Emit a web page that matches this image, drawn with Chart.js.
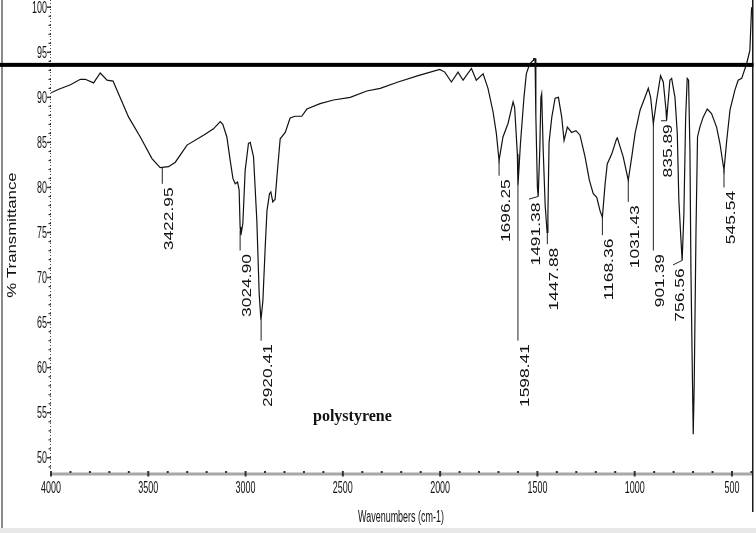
<!DOCTYPE html>
<html>
<head>
<meta charset="utf-8">
<script src="https://cdn.jsdelivr.net/npm/chart.js@4.4.1/dist/chart.umd.min.js"></script>
<style>
html, body { margin: 0; padding: 0; background: #fff; }
canvas { display: block; }
</style>
</head>
<body>
<canvas id="grafico_ir" width="756" height="533"></canvas>
<script>
// espectro IR do poliestireno
const numeros_onda = [
    4000, 3960, 3900, 3849, 3824, 3781, 3747, 3712, 3681, 3653, 3601, 3541, 3481, 3439, 3396, 3361,
    3301, 3216, 3165, 3130, 3117, 3096, 3079, 3065, 3053, 3041, 3033, 3028, 3024, 3014, 3002, 2985,
    2976, 2959, 2942, 2930, 2921, 2911, 2899, 2890, 2877, 2870, 2860, 2848, 2836, 2822, 2796, 2771,
    2745, 2711, 2685, 2617, 2548, 2462, 2377, 2308, 2216, 2113, 2002, 1976, 1942, 1908, 1882, 1839,
    1814, 1779, 1754, 1728, 1711, 1699, 1697, 1677, 1651, 1625, 1617, 1603, 1600, 1587, 1569, 1557,
    1540, 1522, 1519, 1512, 1508, 1500, 1496, 1488, 1482, 1478, 1470, 1460, 1450, 1446, 1440, 1426,
    1409, 1392, 1375, 1363, 1346, 1324, 1302, 1281, 1255, 1233, 1213, 1195, 1178, 1166, 1152, 1141,
    1118, 1093, 1089, 1059, 1033, 1015, 998, 972, 947, 930, 918, 904, 887, 867, 853, 839,
    836, 819, 810, 793, 781, 773, 764, 756, 747, 738, 730, 723, 716, 711, 704, 699,
    694, 685, 677, 665, 648, 627, 605, 579, 562, 541, 527, 510, 485, 468, 450, 425,
    408, 399
]
const transmitancia = [
    90.5, 90.9, 91.4, 92.0, 92.0, 91.6, 92.7, 91.9, 91.8, 90.4, 87.8, 85.6, 83.2, 82.2, 82.3, 82.8,
    84.7, 85.8, 86.5, 87.3, 87.0, 85.6, 83.0, 81.0, 80.4, 80.6, 79.7, 75.6, 74.7, 76.0, 81.9, 84.9,
    85.0, 83.4, 76.3, 68.2, 65.3, 67.4, 73.4, 77.4, 79.3, 79.5, 78.4, 78.7, 81.9, 85.4, 86.1, 87.7,
    87.9, 87.9, 88.7, 89.3, 89.7, 90.0, 90.7, 91.0, 91.7, 92.4, 93.1, 92.8, 91.7, 92.8, 91.9, 93.2,
    91.9, 92.6, 91.0, 88.4, 86.0, 83.4, 83.0, 85.6, 87.1, 89.5, 88.9, 83.7, 80.2, 84.9, 90.0, 92.6,
    93.7, 94.1, 94.3, 94.3, 88.0, 80.0, 79.0, 84.0, 90.0, 90.4, 84.0, 78.0, 75.0, 77.0, 85.0, 87.8,
    89.9, 90.0, 87.8, 85.2, 86.7, 86.1, 86.3, 85.8, 83.4, 80.8, 79.3, 78.9, 77.4, 76.7, 80.4, 82.6,
    83.7, 85.4, 85.5, 83.4, 80.8, 83.4, 86.0, 88.6, 90.0, 91.0, 90.0, 87.1, 89.7, 92.4, 91.7, 88.6,
    87.4, 91.9, 92.1, 90.0, 86.0, 78.6, 74.9, 71.9, 77.1, 87.8, 92.1, 91.9, 84.1, 71.1, 60.0, 52.6,
    58.2, 74.9, 85.6, 86.7, 87.8, 88.7, 88.2, 86.7, 84.9, 81.9, 85.2, 88.6, 90.8, 91.9, 92.1, 93.7,
    95.2, 100.0
]

const ticks_x = [4000, 3500, 3000, 2500, 2000, 1500, 1000, 500]
const ticks_y = [50, 55, 60, 65, 70, 75, 80, 85, 90, 95, 100]

// picos marcados: texto, posicao do pico, fim da linha guia
const picos_texto = ['3422.95', '3024.90', '2920.41', '1696.25', '1598.41', '1491.38', '1447.88',
    '1168.36', '1031.43', '901.39', '835.89', '756.56', '545.54']
const picos_x = [3428, 3028, 2920, 1697, 1600, 1496, 1449, 1166, 1033, 904, 836, 756, 541]
const picos_y = [82.2, 75.2, 65.3, 83.0, 80.2, 79.0, 75.0, 76.7, 80.8, 87.1, 87.4, 71.9, 81.9]
const picos_fim_y = [80.4, 73.0, 63.0, 81.3, 63.0, 78.7, 73.7, 74.7, 78.4, 73.0, 87.4, 71.4, 80.0]
const picos_texto_x = [3428, 3028, 2920, 1697, 1600, 1543, 1449, 1166, 1033, 904, 865, 803, 541]

const linha_referencia = 93.6
const x_min = 397
const x_max = 4000
const y_min = 48.2
const y_max = 100.8

const fonte = '"Liberation Sans", Arial, sans-serif'

function texto_esticado(ctx, txt, x, y, sx, rot, align) {
    ctx.save()
    ctx.translate(x, y)
    if (rot) ctx.rotate(rot)
    ctx.scale(sx, 1)
    ctx.textAlign = align
    ctx.textBaseline = 'alphabetic'
    ctx.fillText(txt, 0, 0)
    ctx.restore()
}

const desenho_extra = {
    id: 'desenho_extra',
    beforeDatasetsDraw(chart) {
        const ctx = chart.ctx
        const xs = chart.scales.x
        const ys = chart.scales.y
        const area = chart.chartArea
        ctx.save()
        // moldura da figura
        ctx.fillStyle = '#e8e8e8'
        ctx.fillRect(0, 528, 756, 5)
        ctx.fillStyle = '#8a8a8a'
        ctx.fillRect(1, 0, 2, 528)
        ctx.fillStyle = '#1a1a1a'
        ctx.fillRect(area.right, 0, 1.5, 512)

        // eixo x cinza com marcas a cada 100
        ctx.fillStyle = '#a8a8a8'
        ctx.fillRect(area.left, area.bottom - 1.5, area.right - area.left, 3)
        ctx.fillStyle = '#333'
        for (let v = 4000; v >= 400; v -= 100) {
            const px = xs.getPixelForValue(v)
            if (v % 500 == 0) {
                ctx.fillRect(px - 1, area.bottom - 3, 2, 5.5)
            } else {
                ctx.fillRect(px - 1, area.bottom - 3, 2, 2)
            }
        }

        // eixo y pontilhado
        ctx.strokeStyle = '#444'
        ctx.lineWidth = 1
        ctx.setLineDash([1, 2])
        ctx.beginPath()
        ctx.moveTo(area.left - 0.5, area.top)
        ctx.lineTo(area.left - 0.5, area.bottom)
        ctx.stroke()
        ctx.setLineDash([])
        for (let v = 49; v <= 100; v++) {
            const py = ys.getPixelForValue(v)
            if (v % 5 == 0) {
                ctx.fillRect(area.left - 4, py - 0.75, 4, 1.5)
            } else {
                ctx.fillRect(area.left - 2.5, py - 0.5, 2.5, 1.2)
            }
        }

        // linha grossa horizontal
        ctx.fillStyle = '#000'
        const py_ref = ys.getPixelForValue(linha_referencia)
        ctx.fillRect(0, py_ref - 2, area.right + 1.5, 4)
        ctx.restore()
    },
    afterDraw(chart) {
        const ctx = chart.ctx
        const xs = chart.scales.x
        const ys = chart.scales.y
        const area = chart.chartArea
        ctx.save()
        ctx.fillStyle = '#111'

        // rotulos dos eixos (fonte estreita)
        ctx.font = '16px ' + fonte
        ticks_x.forEach(v => {
            texto_esticado(ctx, String(v), xs.getPixelForValue(v), 493, 0.56, 0, 'center')
        })
        ticks_y.forEach(v => {
            texto_esticado(ctx, String(v), area.left - 4, ys.getPixelForValue(v) + 5.6, 0.56, 0, 'right')
        })
        texto_esticado(ctx, 'Wavenumbers (cm-1)', 401, 522, 0.56, 0, 'center')

        ctx.font = '12px ' + fonte
        texto_esticado(ctx, '% Transmittance', 15.5, 235, 1.4, -Math.PI / 2, 'center')

        // linhas guia e numeros dos picos
        ctx.strokeStyle = '#222'
        ctx.lineWidth = 1
        for (let i = 0; i < picos_texto.length; i++) {
            const x0 = xs.getPixelForValue(picos_x[i])
            const y0 = ys.getPixelForValue(picos_y[i])
            const x1 = xs.getPixelForValue(picos_texto_x[i])
            const y1 = ys.getPixelForValue(picos_fim_y[i])
            ctx.beginPath()
            ctx.moveTo(x0, y0)
            ctx.lineTo(x1, y1)
            ctx.stroke()
            const largura = ctx.measureText(picos_texto[i]).width * 1.45
            texto_esticado(ctx, picos_texto[i], x1 + 11, y1 + 3.5 + largura, 1.45, -Math.PI / 2, 'left')
        }

        ctx.font = 'bold 16px "Liberation Serif", "Times New Roman", serif'
        ctx.textAlign = 'left'
        ctx.fillText('polystyrene', 313, 421)
        ctx.restore()
    }
}

const pontos = numeros_onda.map((x, i) => ({ x: x, y: transmitancia[i] }))

const config_ir = {
    type: 'line',
    data: {
        datasets: [{
            label: 'polystyrene',
            data: pontos,
            borderColor: '#111',
            borderWidth: 1.2,
            pointRadius: 0,
            fill: false,
            tension: 0
        }]
    },
    options: {
        responsive: false,
        animation: false,
        layout: { padding: { left: 0, right: 4, top: 0, bottom: 0 } },
        plugins: {
            legend: { display: false },
            tooltip: { enabled: false }
        },
        scales: {
            x: {
                type: 'linear',
                reverse: true,
                min: x_min,
                max: x_max,
                afterBuildTicks: s => { s.ticks = ticks_x.map(v => ({ value: v })) },
                afterFit: s => { s.height = 59 },
                ticks: { display: false },
                grid: { display: false },
                border: { display: false }
            },
            y: {
                min: y_min,
                max: y_max,
                afterBuildTicks: s => { s.ticks = ticks_y.map(v => ({ value: v })) },
                afterFit: s => { s.width = 51 },
                ticks: { display: false },
                grid: { display: false },
                border: { display: false }
            }
        }
    },
    plugins: [desenho_extra]
}

const ctx_ir = document.getElementById('grafico_ir')
new Chart(ctx_ir, config_ir)
</script>
</body>
</html>
